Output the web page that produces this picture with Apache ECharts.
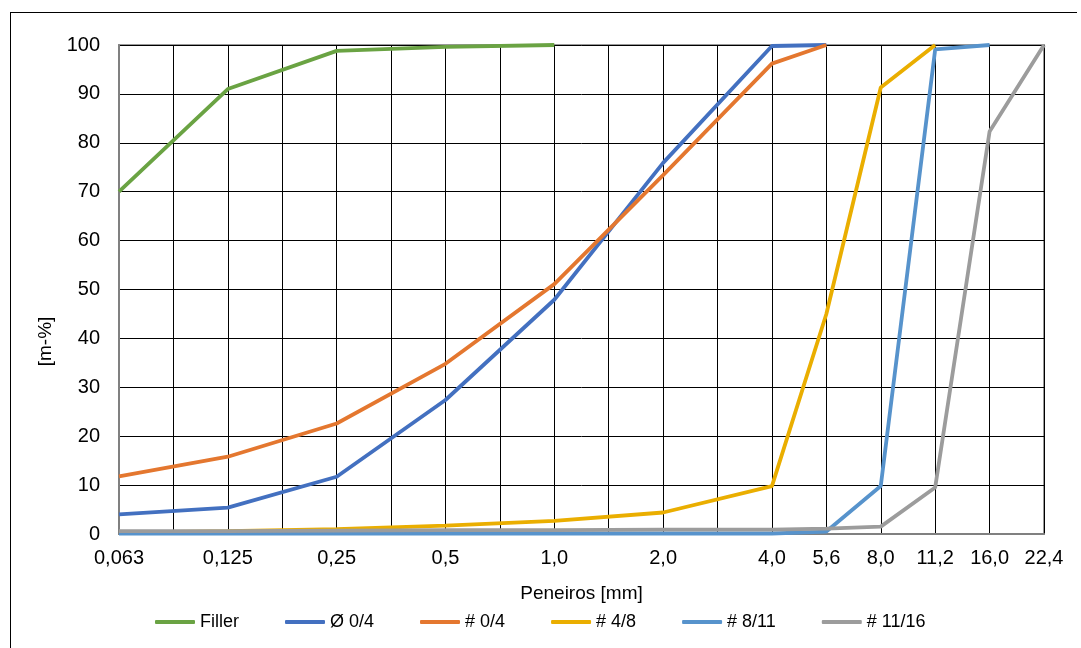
<!DOCTYPE html>
<html>
<head>
<meta charset="utf-8">
<script src="https://cdn.jsdelivr.net/npm/echarts@6/dist/echarts.min.js"></script>
<style>
  html, body { margin: 0; padding: 0; background: #fff; }
  #frame { position: absolute; left: 10px; top: 12px; width: 1066px; height: 700px;
           border-left: 1px solid #000; border-top: 1px solid #000; }
  #chart { position: absolute; left: 0; top: 0; width: 1081px; height: 648px; }
</style>
</head>
<body>
<div id="frame"></div>
<div id="chart"></div>
<script>
// sieve sizes, blank entries are the half steps between the labelled sieves
const sieves = ['0,063', '', '0,125', '', '0,25', '', '0,5', '', '1,0', '', '2,0', '', '4,0', '5,6', '8,0', '11,2', '16,0', '22,4']
const yTicks = [0, 10, 20, 30, 40, 50, 60, 70, 80, 90, 100]

// passing [m-%] per sieve
const filler = [70, null, 91, null, 98.8, null, 99.6, null, 100, null, null, null, null, null, null, null, null, null]
const d04 = [4.0, null, 5.4, null, 11.7, null, 27.4, null, 47.9, null, 75.9, null, 99.8, 100, null, null, null, null]
const h04 = [11.8, null, 15.8, null, 22.6, null, 34.8, null, 51.1, null, 73.4, null, 96.2, 100, null, null, null, null]
const h48 = [0.3, null, 0.6, null, 1.0, null, 1.7, null, 2.7, null, 4.4, null, 9.8, 45, 91.3, 100, null, null]
const h811 = [0.1, null, 0.1, null, 0.1, null, 0.1, null, 0.1, null, 0.1, null, 0.1, 0.5, 9.8, 99.1, 100, null]
const h1116 = [0.6, null, 0.6, null, 0.7, null, 0.8, null, 0.8, null, 0.9, null, 0.9, 1.1, 1.5, 9.5, 82.3, 100]

const seriesDefs = [
  { name: 'Filler', data: filler, color: '#6aa343' },
  { name: 'Ø 0/4', data: d04, color: '#4370c0' },
  { name: '# 0/4', data: h04, color: '#e4772f' },
  { name: '# 4/8', data: h48, color: '#eaae00' },
  { name: '# 8/11', data: h811, color: '#5793cc' },
  { name: '# 11/16', data: h1116, color: '#9c9c9c' }
]

const font = '"Liberation Sans", Arial, sans-serif'
const chart = echarts.init(document.getElementById('chart'))

const option = {
  animation: false,
  grid: {
    left: 119, right: 37, top: 45, bottom: 114,
    show: true,
    borderColor: '#999',
    borderWidth: 2
  },
  legend: {
    left: 150,
    top: 608,
    icon: 'roundRect',
    itemWidth: 40,
    itemHeight: 4,
    itemGap: 46,
    textStyle: { fontFamily: font, fontSize: 18, color: '#000' },
    data: seriesDefs.map(s => s.name)
  },
  xAxis: {
    type: 'category',
    data: sieves,
    boundaryGap: false,
    name: 'Peneiros [mm]',
    nameLocation: 'middle',
    nameGap: 50,
    nameTextStyle: { fontFamily: font, fontSize: 19, color: '#000' },
    axisTick: { show: false },
    axisLine: { show: true, lineStyle: { color: '#808080', width: 2 } },
    axisLabel: { interval: 0, margin: 14, fontFamily: font, fontSize: 20, color: '#000' },
    splitLine: { show: true, interval: 0, lineStyle: { color: '#000', width: 1 } }
  },
  yAxis: {
    type: 'value',
    min: 0,
    max: 100,
    interval: 10,
    name: '[m-%]',
    nameLocation: 'middle',
    nameGap: 56,
    nameRotate: 90,
    nameTextStyle: { fontFamily: font, fontSize: 19, color: '#000', padding: [0, 104, 0, 0] },
    axisLine: { show: true, lineStyle: { color: '#808080', width: 2 } },
    axisTick: { show: false },
    axisLabel: {
      margin: 19, fontFamily: font, fontSize: 20, color: '#000',
      formatter: v => (yTicks.indexOf(v) >= 0 ? String(v) : '')
    },
    splitLine: { show: true, lineStyle: { color: '#000', width: 1 } }
  },
  series: seriesDefs.map(s => ({
    name: s.name,
    type: 'line',
    data: s.data,
    connectNulls: true,
    symbol: 'none',
    color: s.color,
    lineStyle: { color: s.color, width: 3.8 }
  }))
}

chart.setOption(option)
</script>
</body>
</html>
